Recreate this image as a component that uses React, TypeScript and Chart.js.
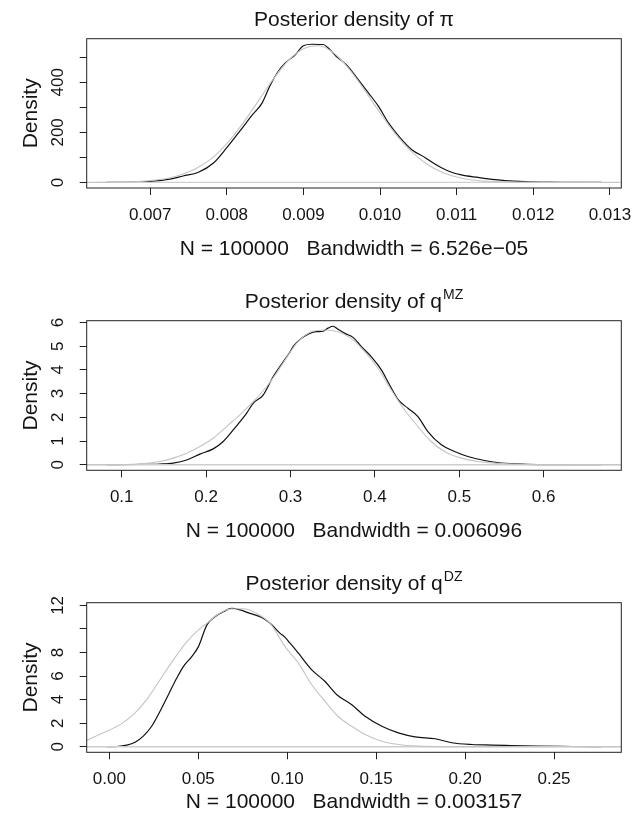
import React, { useEffect, useRef } from "react";
import { Chart, registerables } from "chart.js";

Chart.register(...registerables);

const FONT = '"Liberation Sans", Arial, Helvetica, sans-serif';

// ---------- Panel 1: pi ----------
const piX = [0.00643, 0.0066, 0.0068, 0.007, 0.00726, 0.00743, 0.00763, 0.00783, 0.008, 0.00817, 0.00833, 0.00846, 0.00856, 0.00867, 0.00876, 0.00889, 0.009, 0.00911, 0.00926, 0.00932, 0.00943, 0.00956, 0.0097, 0.00985, 0.00998, 0.01011, 0.01026, 0.01041, 0.01059, 0.01072, 0.01089, 0.01106, 0.01128, 0.0115, 0.01163, 0.0119, 0.0122, 0.0125, 0.01289];
const piDensity = [0, 0.5, 1.5, 4, 13, 26, 41, 79, 139, 205, 269, 317, 384, 443, 476, 509, 546, 552, 551, 538, 503, 470, 417, 357, 304, 238, 179, 132, 99, 73, 46, 30, 20, 11, 7, 3, 1, 0.5, 0];
const piNormX = [0.00618, 0.0064, 0.0068, 0.0072, 0.0074, 0.0076, 0.0078, 0.008, 0.0082, 0.0084, 0.0086, 0.0088, 0.009, 0.0092, 0.0094, 0.0096, 0.0098, 0.01, 0.0102, 0.0104, 0.0106, 0.0108, 0.011, 0.0112, 0.0114, 0.0118, 0.0122, 0.01311];
const piNormal = [0, 0.4, 3, 15, 31, 56, 95, 155, 232, 320, 410, 486, 534, 546, 516, 452, 368, 278, 194, 126, 76, 42, 22, 10, 5, 1, 0.2, 0];
const piXTicks = [0.007, 0.008, 0.009, 0.01, 0.011, 0.012, 0.013];
const piXTickLabels = ["0.007", "0.008", "0.009", "0.010", "0.011", "0.012", "0.013"];
const piYTicks = [0, 100, 200, 300, 400, 500];
const piYTickLabels = ["0", "", "200", "", "400", ""];

// ---------- Panel 2: qMZ ----------
const mzX = [0.082, 0.1178, 0.1453, 0.161, 0.177, 0.1927, 0.2084, 0.2203, 0.2361, 0.2479, 0.2558, 0.2676, 0.2794, 0.2913, 0.2992, 0.3031, 0.313, 0.3228, 0.3308, 0.3386, 0.3445, 0.3504, 0.3563, 0.3643, 0.3741, 0.384, 0.3959, 0.4077, 0.4175, 0.4273, 0.4392, 0.451, 0.4628, 0.4787, 0.4944, 0.5102, 0.5299, 0.5497, 0.58, 0.62, 0.6685];
const mzDensity = [0, 0.01, 0.03, 0.07, 0.2, 0.45, 0.67, 0.98, 1.64, 2.17, 2.59, 2.94, 3.71, 4.34, 4.74, 4.98, 5.33, 5.54, 5.61, 5.63, 5.76, 5.84, 5.71, 5.54, 5.37, 4.98, 4.55, 4.0, 3.36, 2.76, 2.38, 2.03, 1.4, 0.84, 0.56, 0.35, 0.18, 0.07, 0.02, 0.005, 0];
const mzNormX = [0.0585, 0.09, 0.1178, 0.1453, 0.161, 0.177, 0.1927, 0.2084, 0.2242, 0.24, 0.2558, 0.2715, 0.2834, 0.2933, 0.309, 0.3248, 0.3406, 0.3563, 0.372, 0.3878, 0.4036, 0.4194, 0.4352, 0.451, 0.4667, 0.4825, 0.5022, 0.522, 0.5457, 0.58, 0.692];
const mzNormal = [0, 0.005, 0.03, 0.14, 0.28, 0.49, 0.77, 1.12, 1.61, 2.1, 2.66, 3.29, 3.86, 4.4, 5.19, 5.61, 5.68, 5.61, 5.33, 4.77, 4.07, 3.15, 2.31, 1.61, 0.98, 0.56, 0.28, 0.14, 0.06, 0.01, 0];
const mzXTicks = [0.1, 0.2, 0.3, 0.4, 0.5, 0.6];
const mzXTickLabels = ["0.1", "0.2", "0.3", "0.4", "0.5", "0.6"];
const mzYTicks = [0, 1, 2, 3, 4, 5, 6];
const mzYTickLabels = ["0", "1", "2", "3", "4", "5", "6"];

// ---------- Panel 3: qDZ ----------
const dzX = [-0.0016, 0.0042, 0.0098, 0.0145, 0.0191, 0.0238, 0.0285, 0.0332, 0.0379, 0.0416, 0.0463, 0.0501, 0.0548, 0.0594, 0.0641, 0.0688, 0.0735, 0.0791, 0.0857, 0.0904, 0.096, 0.0988, 0.1016, 0.1063, 0.1138, 0.1213, 0.1279, 0.1363, 0.1438, 0.1532, 0.1625, 0.1719, 0.1832, 0.1926, 0.2038, 0.2151, 0.2226, 0.24, 0.26, 0.2767];
const dzDensity = [0, 0.02, 0.14, 0.39, 0.9, 1.74, 3.01, 4.42, 5.83, 6.81, 7.66, 8.5, 10.33, 11.04, 11.46, 11.76, 11.62, 11.32, 10.98, 10.48, 9.63, 9.29, 8.79, 7.94, 6.53, 5.54, 4.42, 3.57, 2.59, 1.74, 1.18, 0.84, 0.68, 0.34, 0.19, 0.14, 0.11, 0.05, 0.02, 0];
const dzNormX = [-0.0127, -0.0034, 0.006, 0.0135, 0.021, 0.0285, 0.036, 0.0435, 0.0492, 0.0548, 0.0604, 0.0679, 0.0754, 0.0829, 0.0904, 0.0988, 0.1063, 0.1138, 0.1213, 0.1285, 0.1363, 0.1438, 0.1532, 0.1625, 0.1738, 0.1888, 0.2879];
const dzNormal = [0.56, 1.18, 1.88, 2.73, 4.0, 5.69, 7.38, 8.9, 9.8, 10.48, 11.18, 11.69, 11.72, 11.32, 10.48, 8.5, 7.1, 5.26, 3.85, 2.59, 1.74, 1.04, 0.47, 0.19, 0.05, 0.01, 0];
const dzXTicks = [0, 0.05, 0.1, 0.15, 0.2, 0.25];
const dzXTickLabels = ["0.00", "0.05", "0.10", "0.15", "0.20", "0.25"];
const dzYTicks = [0, 2, 4, 6, 8, 10, 12];
const dzYTickLabels = ["0", "2", "4", "6", "8", "", "12"];

type Panel = {
  title: string;
  sup: string;
  xlab: string;
  ylab: string;
  x: number[];
  dens: number[];
  nx: number[];
  norm: number[];
  xTicks: number[];
  xTickLabels: string[];
  yTicks: number[];
  yTickLabels: string[];
  top: number; // canvas top within root
  height: number; // canvas height
  boxTop: number; // plot box top within canvas
  boxBottom: number; // plot box bottom within canvas
  xlabOffset: number; // x label baseline below box
};

const PANELS: Panel[] = [
  {
    title: "Posterior density of \u03c0", sup: "", xlab: "N = 100000   Bandwidth = 6.526e\u221205", ylab: "Density",
    x: piX, dens: piDensity, nx: piNormX, norm: piNormal,
    xTicks: piXTicks, xTickLabels: piXTickLabels, yTicks: piYTicks, yTickLabels: piYTickLabels,
    top: 0, height: 270, boxTop: 30.7, boxBottom: 180, xlabOffset: 66.7,
  },
  {
    title: "Posterior density of q", sup: "MZ", xlab: "N = 100000   Bandwidth = 0.006096", ylab: "Density",
    x: mzX, dens: mzDensity, nx: mzNormX, norm: mzNormal,
    xTicks: mzXTicks, xTickLabels: mzXTickLabels, yTicks: mzYTicks, yTickLabels: mzYTickLabels,
    top: 270, height: 270, boxTop: 42.7, boxBottom: 192.3, xlabOffset: 66.7,
  },
  {
    title: "Posterior density of q", sup: "DZ", xlab: "N = 100000   Bandwidth = 0.003157", ylab: "Density",
    x: dzX, dens: dzDensity, nx: dzNormX, norm: dzNormal,
    xTicks: dzXTicks, xTickLabels: dzXTickLabels, yTicks: dzYTicks, yTickLabels: dzYTickLabels,
    top: 536, height: 270, boxTop: 58.7, boxBottom: 208.3, xlabOffset: 55.7,
  },
];

const CANVAS_W = 628;
const AXIS_W = 78.7;
const RIGHT_PAD = 14.7;
const TEXT = "#141414";

const rPlotPlugin = {
  id: "rplot",
  afterDraw(chart: any, _args: any, opts: any) {
    const p: Panel = opts.panel;
    if (!p) return;
    const { ctx, chartArea: a, scales } = chart;
    ctx.save();
    // plot box
    ctx.strokeStyle = "#222";
    ctx.lineWidth = 1;
    ctx.strokeRect(a.left, a.top, a.right - a.left, a.bottom - a.top);

    ctx.fillStyle = TEXT;
    ctx.textBaseline = "alphabetic";
    const cx = (a.left + a.right) / 2;

    // title with optional superscript
    ctx.font = `21px ${FONT}`;
    const wMain = ctx.measureText(p.title).width;
    ctx.font = `14px ${FONT}`;
    const wSup = p.sup ? ctx.measureText(p.sup).width + 1 : 0;
    const x0 = cx - (wMain + wSup) / 2;
    const tb = a.top - 13;
    ctx.textAlign = "left";
    ctx.font = `21px ${FONT}`;
    ctx.fillText(p.title, x0, tb);
    if (p.sup) {
      ctx.font = `14px ${FONT}`;
      ctx.fillText(p.sup, x0 + wMain + 1, tb - 9);
    }

    // x tick labels
    const xs = scales.x;
    ctx.font = `17px ${FONT}`;
    ctx.textAlign = "center";
    p.xTicks.forEach((v, i) => {
      const lab = p.xTickLabels[i];
      if (!lab) return;
      ctx.fillText(lab, xs.getPixelForValue(v), a.bottom + 31.9);
    });

    // x label
    ctx.font = `21px ${FONT}`;
    ctx.fillText(p.xlab, cx, a.bottom + p.xlabOffset);

    // y tick labels (rotated, parallel to axis)
    const ys = scales.y;
    ctx.font = `17px ${FONT}`;
    p.yTicks.forEach((v, i) => {
      const lab = p.yTickLabels[i];
      if (!lab) return;
      const py = ys.getPixelForValue(v);
      ctx.save();
      ctx.translate(a.left - 24, py);
      ctx.rotate(-Math.PI / 2);
      ctx.textAlign = "center";
      ctx.fillText(lab, 0, 0);
      ctx.restore();
    });

    // y label
    ctx.save();
    ctx.font = `21px ${FONT}`;
    ctx.translate(a.left - 49.5, (a.top + a.bottom) / 2);
    ctx.rotate(-Math.PI / 2);
    ctx.textAlign = "center";
    ctx.fillText(p.ylab, 0, 0);
    ctx.restore();

    ctx.restore();
  },
};

function PanelChart({ p }: { p: Panel }) {
  const ref = useRef<HTMLCanvasElement | null>(null);
  useEffect(() => {
    const canvas = ref.current;
    if (!canvas) return;
    const dMin = Math.min(...p.x);
    const dMax = Math.max(...p.x);
    const xr = dMax - dMin;
    const yMax = Math.max(...p.dens);
    const xMin = dMin - 0.04 * xr;
    const xMax = dMax + 0.04 * xr;
    const densPts = p.x.map((x, i) => ({ x, y: p.dens[i] }));
    const normPts = p.nx.map((x, i) => ({ x, y: p.norm[i] }));
    const zeroPts = [{ x: xMin, y: 0 }, { x: xMax, y: 0 }];

    const chart = new Chart(canvas, {
      type: "line",
      data: {
        datasets: [
          { data: normPts, borderColor: "#c4c4c4", borderWidth: 1.1, pointRadius: 0, cubicInterpolationMode: "monotone", borderJoinStyle: "round" },
          { data: zeroPts, borderColor: "#cfcfcf", borderWidth: 1.3, pointRadius: 0 },
          { data: densPts, borderColor: "#111111", borderWidth: 1.2, pointRadius: 0, cubicInterpolationMode: "monotone", borderJoinStyle: "round" },
        ],
      } as any,
      options: {
        animation: false,
        responsive: false,
        maintainAspectRatio: false,
        devicePixelRatio: 1,
        events: [],
        layout: { padding: { top: p.boxTop, right: RIGHT_PAD, left: 0, bottom: 0 } },
        plugins: {
          legend: { display: false },
          tooltip: { enabled: false },
          title: { display: false },
          rplot: { panel: p },
        } as any,
        scales: {
          x: {
            type: "linear",
            min: xMin,
            max: xMax,
            afterBuildTicks: (s: any) => {
              s.ticks = p.xTicks.map((v) => ({ value: v }));
            },
            afterFit: (s: any) => {
              s.height = p.height - p.boxBottom;
            },
            ticks: { display: false },
            grid: { drawOnChartArea: false, drawTicks: true, tickLength: 7, color: "#222", lineWidth: 1 },
            border: { display: false },
          },
          y: {
            type: "linear",
            min: -0.04 * yMax,
            max: 1.04 * yMax,
            afterBuildTicks: (s: any) => {
              s.ticks = p.yTicks.map((v) => ({ value: v }));
            },
            afterFit: (s: any) => {
              s.width = AXIS_W;
            },
            ticks: { display: false },
            grid: { drawOnChartArea: false, drawTicks: true, tickLength: 7, color: "#222", lineWidth: 1 },
            border: { display: false },
          },
        },
      } as any,
      plugins: [rPlotPlugin],
    });
    return () => chart.destroy();
  }, [p]);

  return (
    <canvas
      ref={ref}
      width={CANVAS_W}
      height={p.height}
      style={{ position: "absolute", left: 0, top: p.top, width: CANVAS_W, height: p.height, display: "block" }}
    />
  );
}

export default function App() {
  return (
    <div style={{ position: "relative", width: CANVAS_W, height: 806, background: "#ffffff" }}>
      {PANELS.map((p, i) => (
        <PanelChart key={i} p={p} />
      ))}
    </div>
  );
}
